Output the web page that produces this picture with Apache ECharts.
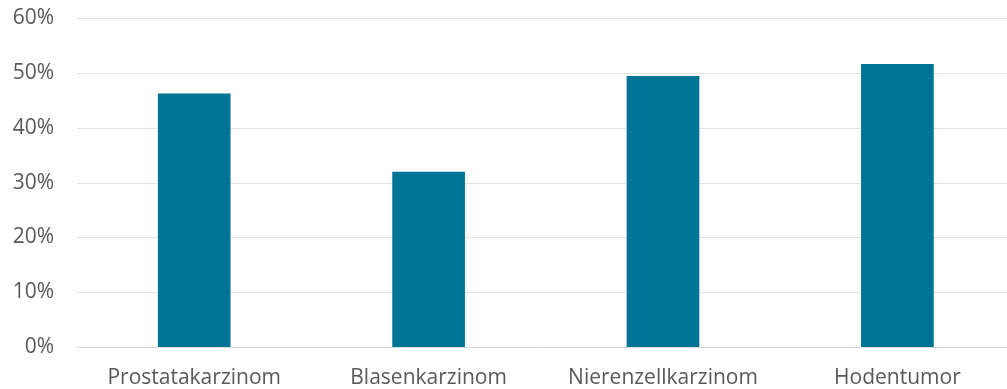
<!DOCTYPE html>
<html><head><meta charset="utf-8">
<script src="https://cdn.jsdelivr.net/npm/echarts@6/dist/echarts.min.js"></script>
<style>html,body{margin:0;padding:0;background:#fff}#c{width:1007px;height:389px}</style>
</head><body><div id="c"></div>
<script>
const categories = ["Prostatakarzinom", "Blasenkarzinom", "Nierenzellkarzinom", "Hodentumor"];
const values = [46.3, 32.0, 49.5, 51.7];
const yTicks = [0, 10, 20, 30, 40, 50, 60];

const chart = echarts.init(document.getElementById('c'), null, {renderer: 'canvas'});
chart.setOption({
  animation: false,
  grid: {left: 77, top: 18.5, width: 937.6, height: 328.5, containLabel: false, outerBoundsMode: 'none'},
  xAxis: {
    type: 'category', data: categories,
    axisLine: {show: true, lineStyle: {color: '#d9d9d9', width: 1}},
    axisTick: {show: false},
    axisLabel: {color: '#595959', fontFamily: 'Open Sans', fontSize: 21, margin: 21, interval: 0, hideOverlap: false}
  },
  yAxis: {
    type: 'value', min: yTicks[0], max: yTicks[yTicks.length - 1], interval: 10,
    axisLine: {show: false}, axisTick: {show: false},
    splitLine: {lineStyle: {color: '#e4e4e4', width: 1}},
    axisLabel: {color: '#595959', fontFamily: 'Open Sans', fontSize: 21, margin: 23, formatter: v => v + '%'}
  },
  series: [{
    type: 'bar', data: values, barWidth: '31%',
    itemStyle: {color: '#007494'}
  }]
});
</script></body></html>
